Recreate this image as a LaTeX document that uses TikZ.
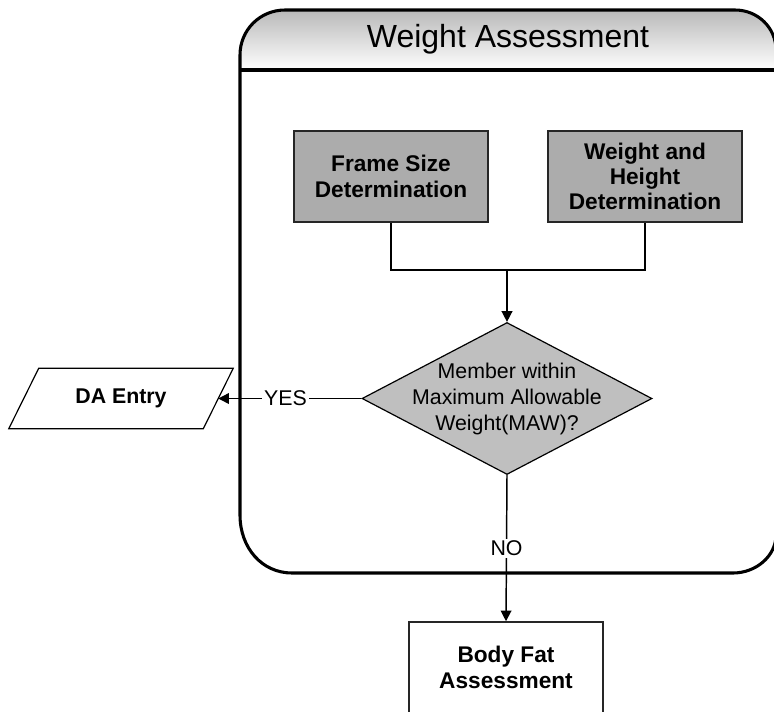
\documentclass[tikz,border=0pt]{standalone}
\usepackage{fontspec}
\setmainfont{Liberation Sans}
\usetikzlibrary{shapes.geometric,arrows.meta}
\begin{document}
\begin{tikzpicture}[x=0.75pt,y=-0.75pt,
 procbox/.style={draw=black!85,line width=1.4pt,fill=gray!65,minimum width=145.5pt,minimum height=68pt,inner sep=0pt,align=center,font=\fontsize{17}{19}\selectfont\bfseries},
 endbox/.style={procbox,fill=white},
 decision/.style={diamond,draw=black,line width=0.9pt,fill=gray!50,minimum width=217.5pt,minimum height=114pt,inner sep=0pt},
 dectext/.style={align=center,font=\fontsize{16}{19.5}\selectfont},
 iobox/.style={rectangle,minimum width=145.5pt,minimum height=45pt,inner sep=0pt,font=\fontsize{16}{19}\selectfont\bfseries},
 ioline/.style={draw,line width=0.9pt,fill=white},
 flow/.style={line width=1.1pt},
 arrow/.style={flow,-{Triangle[length=8pt,width=8pt]}},
 lbl/.style={fill=white,inner sep=1.5pt,font=\fontsize{16}{19}\selectfont},
 container/.style={line width=2.3pt},
]
\useasboundingbox (0,0) rectangle (774,711);
% header shading
\shade[top color=gray!55,bottom color=white]
  (240,70) -- (240,55) .. controls (240,30) and (260,10) .. (285,10) -- (735,10)
  .. controls (758,10) and (776,28) .. (776,50) -- (776,70) -- cycle;
% container
\draw[container] (240,55) .. controls (240,30) and (260,10) .. (285,10) -- (735,10)
  .. controls (758,10) and (776,28) .. (776,50) -- (776,535)
  .. controls (776,556) and (756,573) .. (733,573) -- (292,573)
  .. controls (262,573) and (240,548) .. (240,515) -- cycle;
\draw[container] (240,70) -- (776,70);
\node[anchor=base,font=\fontsize{24}{28}\selectfont] (title) at (508,47) {Weight Assessment};
% nodes
\node[procbox] (fs) at (391,176.5) {Frame Size\\Determination};
\node[procbox] (wh) at (645,176.5) {Weight and\\Height\\Determination};
\node[decision] (dec) at (507,398.5) {};
\node[dectext] (dect) at (dec.center) {Member within\\Maximum Allowable\\Weight(MAW)?};
\node[iobox] (da) at (121,398.5) {};
\draw[ioline] ([xshift=11.25pt]da.north west) -- ([xshift=11.25pt]da.north east)
  -- ([xshift=-11.25pt]da.south east) -- ([xshift=-11.25pt]da.south west) -- cycle;
\node[iobox] (dat) at (da.center) {DA Entry};
\node[endbox] (bf) at (506,667.5) {Body Fat\\Assessment};
% connectors
\coordinate (j) at (507,270);
\draw[flow] (fs.south) |- (j) -| (wh.south);
\draw[arrow] (j) -- (dec.north);
\draw[arrow] (dec.west) -- node[lbl,pos=0.53]{YES} (da.east);
\draw[arrow] (dec.south) -- node[lbl]{NO} (bf.north);
\end{tikzpicture}
\end{document}
